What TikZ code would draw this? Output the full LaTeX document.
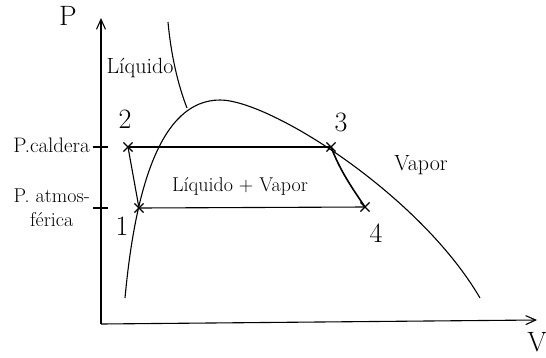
\documentclass[tikz,border=0pt]{standalone}
\usetikzlibrary{shapes.misc,arrows.meta}
\begin{document}
\begin{tikzpicture}[x=1pt,y=-1pt,
  line/.style={line width=1.1pt},
  xmark/.style={draw,cross out,line width=1.1pt,minimum size=8pt,inner sep=0pt},
  lbl/.style={font=\fontsize{20}{21}\selectfont},
  num/.style={font=\fontsize{28}{30}\selectfont}]
\useasboundingbox (0,0) rectangle (546,357);
% axes
\coordinate (O) at (101,324);
\coordinate (Ptop) at (101,18);
\coordinate (Vend) at (537,320);
\draw[line,-{Straight Barb[length=10pt,width=9pt]}] (O) -- (Ptop);
\draw[line,-{Straight Barb[length=10pt,width=9pt]}] (O) -- (Vend);
\node[num] (P) at (68,16) {P};
\node[num] (V) at (537,342) {V};
% ticks
\coordinate (tc1) at (93,147); \coordinate (tc2) at (108,147);
\coordinate (ta1) at (93,208); \coordinate (ta2) at (108,208);
\draw[line] (tc1) -- (tc2);
\draw[line] (ta1) -- (ta2);
\node[lbl,font=\fontsize{21}{22}\selectfont,anchor=east,inner sep=1pt] (lc) at (91,145) {P.caldera};
\node[lbl,align=center,anchor=east,inner sep=1pt,font=\fontsize{20}{24}\selectfont] (la) at (91,208) {P. atmos-\\férica};
% dome
\draw[line] (125,298) .. controls (135,190) and (160,100) .. (220,100)
  .. controls (270,100) and (420,195) .. (480,298);
% liquid line
\draw[line] (168,22) .. controls (171,55) and (178,85) .. (187,108);
% points
\node[xmark] (p2) at (128,147) {};
\node[xmark] (p1) at (139,208) {};
\node[xmark] (p3) at (331,147) {};
\node[xmark] (p4) at (365,207) {};
\draw[line] (p2.center) -- (p3.center);
\draw[line] (p1.center) -- (p4.center);
\draw[line] (p2.center) -- (p1.center);
\draw[line width=1.6pt] (p3.center) .. controls (340,170) and (350,185) .. (p4.center);
\node[num] (n2) at (125,119) {2};
\node[num] (n1) at (122,226) {1};
\node[num] (n3) at (341,122) {3};
\node[num] (n4) at (376,233) {4};
% region labels
\node[lbl,font=\fontsize{22}{23}\selectfont] (liq) at (140,68) {Líquido};
\node[lbl] (lv) at (240,186) {Líquido + Vapor};
\node[lbl,font=\fontsize{22}{23}\selectfont] (vap) at (421,165) {Vapor};
\end{tikzpicture}
\end{document}
